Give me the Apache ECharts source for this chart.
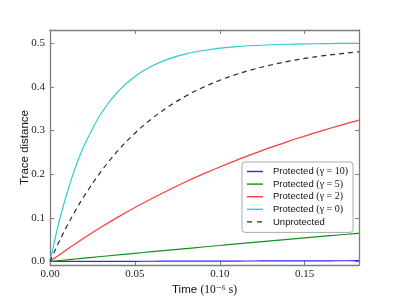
<!DOCTYPE html>
<html><head><meta charset="utf-8">
<script src="https://cdn.jsdelivr.net/npm/echarts@6/dist/echarts.min.js"></script>
<style>html,body{margin:0;padding:0;background:#fff}#c{width:399px;height:301px}</style>
</head><body><div id="c"></div>
<script>
// time (10^-6 s)
var times = [0, 0.005, 0.01, 0.015, 0.02, 0.03, 0.04, 0.05, 0.06, 0.07, 0.08, 0.09, 0.10, 0.11, 0.12, 0.13, 0.14, 0.15, 0.16, 0.17, 0.18, 0.182];
var protected10 = [0, 0.0001, 0.0001, 0.0002, 0.0002, 0.0003, 0.0004, 0.0005, 0.0006, 0.0007, 0.0008, 0.0009, 0.0010, 0.0011, 0.0012, 0.0013, 0.0014, 0.0015, 0.0016, 0.0017, 0.0018, 0.0018];
var protected5 = [0, 0.0019, 0.0038, 0.0057, 0.0076, 0.0114, 0.0150, 0.0187, 0.0224, 0.0260, 0.0296, 0.0332, 0.0367, 0.0402, 0.0437, 0.0472, 0.0506, 0.0540, 0.0574, 0.0607, 0.0640, 0.0647];
var protected2 = [0, 0.0140, 0.0276, 0.0408, 0.0537, 0.0783, 0.1016, 0.1235, 0.1443, 0.1639, 0.1825, 0.2000, 0.2165, 0.2322, 0.2470, 0.2612, 0.2745, 0.2872, 0.2992, 0.3106, 0.3215, 0.3237];
var protected0 = [0, 0.0857, 0.1567, 0.2155, 0.2643, 0.3382, 0.3889, 0.4237, 0.4476, 0.4640, 0.4753, 0.4830, 0.4884, 0.4920, 0.4945, 0.4962, 0.4974, 0.4982, 0.4988, 0.4992, 0.4994, 0.4995];
var unprotected = [0, 0.0424, 0.0811, 0.1166, 0.1490, 0.2060, 0.2537, 0.2937, 0.3271, 0.3552, 0.3787, 0.3984, 0.4149, 0.4287, 0.4402, 0.4499, 0.4580, 0.4649, 0.4706, 0.4753, 0.4794, 0.4801];
var seriesNames = ['g10', 'g5', 'g2', 'g0', 'unp'];
var legendMain = {g10: 'Protected', g5: 'Protected', g2: 'Protected', g0: 'Protected', unp: 'Unprotected'};
var legendMath = {g10: '(γ = 10)', g5: '(γ = 5)', g2: '(γ = 2)', g0: '(γ = 0)', unp: ''};
var xTitle = 'Time';
var xUnit = '(10⁻⁶ s)';
var yTitle = 'Trace distance';

function pairs(v) { return times.map(function (t, i) { return [t, v[i]]; }); }

var frame = '#7d7d7d';
var serif = '"Liberation Serif","DejaVu Serif",serif';
var sans = '"Liberation Sans",Arial,sans-serif';

function mkLine(name, data, color, type) {
  return {
    name: name, type: 'line', data: pairs(data), symbol: 'none', smooth: 0.35,
    lineStyle: {color: color, width: 1.2, type: type || 'solid'},
    itemStyle: {color: color}, animation: false, z: 3
  };
}
var dash = [5, 4];
var solidIcon = 'path://M0,0h16v1.4h-16z';
var dashIcon = 'path://M0,0h5v1.4h-5zM10,0h5v1.4h-5zM15.9,0h0.1v1.4h-0.1z';
var chart = echarts.init(document.getElementById('c'), null, {renderer: 'canvas'});
function axisLineCfg() { return {show: true, onZero: false, lineStyle: {color: frame, width: 1.3}}; }
function tickCfg() { return {show: true, inside: true, length: 4, lineStyle: {color: frame, width: 1}}; }

chart.setOption({
  backgroundColor: '#fff',
  animation: false,
  grid: {left: 50, right: 40, top: 30, bottom: 32, containLabel: false},
  xAxis: [
    {type: 'value', min: 0, max: 0.182, splitNumber: 4, splitLine: {show: false}, position: 'bottom',
      axisLine: axisLineCfg(), axisTick: tickCfg(),
      axisLabel: {show: true, margin: 4, fontFamily: serif, fontSize: 11, color: '#222', showMaxLabel: false,
        formatter: function (v) { return v.toFixed(2); }},
      name: '{s|' + xTitle + '} {m|' + xUnit + '}', nameLocation: 'middle', nameGap: 19, nameMoveOverlap: false,
      nameTextStyle: {rich: {s: {fontFamily: sans, fontSize: 11.5, color: '#111'}, m: {fontFamily: serif, fontSize: 11.5, color: '#111'}}}},
    {type: 'value', min: 0, max: 0.182, splitNumber: 4, splitLine: {show: false}, position: 'top',
      axisLine: axisLineCfg(), axisTick: tickCfg(), axisLabel: {show: false}}
  ],
  yAxis: [
    {type: 'value', min: -0.008, max: 0.53, splitNumber: 5, splitLine: {show: false}, position: 'left',
      axisLine: axisLineCfg(), axisTick: tickCfg(),
      axisLabel: {show: true, margin: 5, fontFamily: serif, fontSize: 11, color: '#222', showMaxLabel: false, showMinLabel: false,
        formatter: function (v) { return v.toFixed(1); }},
      name: yTitle, nameLocation: 'middle', nameGap: 19, nameMoveOverlap: false,
      nameTextStyle: {fontFamily: sans, fontSize: 11.5, color: '#111'}},
    {type: 'value', min: -0.008, max: 0.53, splitNumber: 5, splitLine: {show: false}, position: 'right',
      axisLine: axisLineCfg(), axisTick: tickCfg(), axisLabel: {show: false}}
  ],
  legend: {
    orient: 'vertical', left: 242, top: 162,
    data: seriesNames.map(function (n) { return {name: n, icon: n === 'unp' ? dashIcon : solidIcon}; }),
    backgroundColor: '#fff', borderColor: '#aaa', borderWidth: 1, borderRadius: 3,
    padding: [4, 5, 5, 5], itemWidth: 16, itemHeight: 1.4, itemGap: 1.6,
    textStyle: {fontSize: 9.5, color: '#111', lineHeight: 11,
      rich: {a: {fontFamily: sans, fontSize: 9.5, color: '#111', padding: [0, 0, 0, 5]}, m: {fontFamily: serif, fontSize: 10, color: '#111'}}},
    formatter: function (n) { return '{a|' + legendMain[n] + '}' + (legendMath[n] ? ' {m|' + legendMath[n] + '}' : ''); }
  },
  series: [
    mkLine('g10', protected10, '#2b2bf0'),
    mkLine('g5', protected5, '#1a8c1a'),
    mkLine('g2', protected2, '#ff3b3b'),
    mkLine('g0', protected0, '#2ecccc'),
    mkLine('unp', unprotected, '#2a2a2a', dash)
  ]
});
</script></body></html>
